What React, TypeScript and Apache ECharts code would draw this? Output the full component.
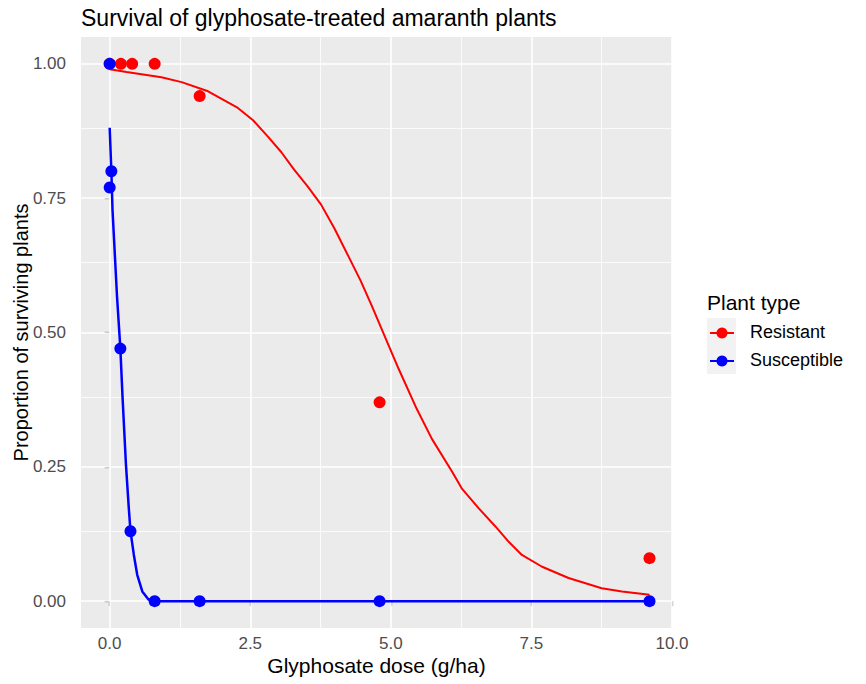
import React, { useEffect, useRef } from "react";
import * as echarts from "echarts";

// Observed survival proportions
const resistantDoseObs = [0, 0.2, 0.4, 0.8, 1.6, 4.8, 9.6];
const resistantSurvObs = [1.0, 1.0, 1.0, 1.0, 0.94, 0.37, 0.08];
const susceptibleDoseObs = [0, 0, 0.03, 0.19, 0.37, 0.8, 1.6, 4.8, 9.6];
const susceptibleSurvObs = [1.0, 0.77, 0.8, 0.47, 0.13, 0, 0, 0, 0];

// Fitted dose-response curves
const resistantFitDose = [0, 0.3, 0.92, 1.28, 1.75, 2.28, 2.55, 2.81, 3.05, 3.28, 3.52, 3.76, 4.0, 4.24, 4.46, 4.66, 4.96, 5.14, 5.46, 5.73, 6.09, 6.26, 6.56, 6.86, 7.1, 7.33, 7.69, 8.16, 8.75, 9.11, 9.6];
const resistantFitSurv = [0.99, 0.985, 0.975, 0.966, 0.949, 0.918, 0.895, 0.865, 0.836, 0.803, 0.772, 0.738, 0.693, 0.643, 0.597, 0.55, 0.476, 0.432, 0.358, 0.302, 0.241, 0.21, 0.173, 0.139, 0.11, 0.086, 0.064, 0.043, 0.024, 0.018, 0.012];
const susceptibleFitDose = [0, 0.03, 0.05, 0.13, 0.19, 0.23, 0.29, 0.34, 0.37, 0.43, 0.49, 0.58, 0.69, 0.8, 9.6];
const susceptibleFitSurv = [0.881, 0.8, 0.729, 0.568, 0.47, 0.377, 0.253, 0.173, 0.13, 0.086, 0.049, 0.018, 0.003, 0, 0];

// Axis ticks
const xTicks = [0, 2.5, 5, 7.5, 10];
const xMinorTicks = [1.25, 3.75, 6.25, 8.75];
const yTicks = [0, 0.25, 0.5, 0.75, 1];
const yMinorTicks = [0.125, 0.375, 0.625, 0.875];

const seriesNames = ["Resistant", "Susceptible"];
const seriesColors = ["#FF0000", "#0000FF"];

const FONT = "Liberation Sans, Arial, sans-serif";

const zip = (xs: number[], ys: number[]) => xs.map((x, i) => [x, ys[i]]);

export default function App() {
  const ref = useRef<HTMLDivElement>(null);
  useEffect(() => {
    if (!ref.current) return;
    const chart = echarts.init(ref.current, undefined, { renderer: "svg" });
    const gridLeft = 81;
    const gridTop = 37;
    const gridW = 591;
    const gridH = 591;

    const minor = { color: "#FFFFFF", width: 0.8, type: "solid" };
    const major = { color: "#FFFFFF", width: 1.6, type: "solid" };
    const gridLines = {
      type: "line",
      data: [],
      z: 1,
      silent: true,
      markLine: {
        z: 1,
        silent: true,
        symbol: "none",
        label: { show: false },
        animation: false,
        data: [
          ...yMinorTicks.map((v) => ({ yAxis: v, lineStyle: minor })),
          ...xMinorTicks.map((v) => ({ xAxis: v, lineStyle: minor })),
          ...yTicks.map((v) => ({ yAxis: v, lineStyle: major })),
          ...xTicks.map((v) => ({ xAxis: v, lineStyle: major })),
        ],
      },
    };

    const legendX = 707;
    const legendRows = [333, 361];

    chart.setOption({
      animation: false,
      backgroundColor: "#FFFFFF",
      title: {
        text: "Survival of glyphosate-treated amaranth plants",
        left: 76,
        top: 1,
        textStyle: { fontFamily: FONT, fontSize: 23, fontWeight: "normal", color: "#000000" },
      },
      grid: {
        left: gridLeft,
        top: gridTop,
        width: gridW,
        height: gridH,
        show: true,
        backgroundColor: "#EBEBEB",
        borderWidth: 0,
        outerBoundsMode: "none",
        containLabel: false,
        z: 0,
      },
      xAxis: {
        type: "value",
        min: -0.51,
        max: 10,
        name: "Glyphosate dose (g/ha)",
        nameLocation: "middle",
        nameGap: 27,
        nameMoveOverlap: false,
        nameTextStyle: { fontFamily: FONT, fontSize: 21, color: "#000000" },
        axisLine: { show: false },
        splitLine: { show: false },
        axisTick: { show: true, customValues: xTicks, length: 5, lineStyle: { color: "#333333", width: 1.2 } },
        axisLabel: {
          customValues: xTicks,
          formatter: (v: number) => v.toFixed(1),
          color: "#4D4D4D",
          fontFamily: FONT,
          fontSize: 17,
          margin: 7,
        },
      },
      yAxis: {
        type: "value",
        min: -0.05,
        max: 1.05,
        name: "Proportion of surviving plants",
        nameLocation: "middle",
        nameGap: 50,
        nameMoveOverlap: false,
        nameTextStyle: { fontFamily: FONT, fontSize: 20, color: "#000000" },
        axisLine: { show: false },
        splitLine: { show: false },
        axisTick: { show: true, customValues: yTicks, length: 5, lineStyle: { color: "#333333", width: 1.2 } },
        axisLabel: {
          customValues: yTicks,
          formatter: (v: number) => v.toFixed(2),
          color: "#4D4D4D",
          fontFamily: FONT,
          fontSize: 17,
          margin: 15,
        },
      },
      series: [
        gridLines,
        {
          name: seriesNames[0],
          type: "line",
          data: zip(resistantFitDose, resistantFitSurv),
          showSymbol: false,
          smooth: false,
          z: 3,
          lineStyle: { color: seriesColors[0], width: 2 },
          itemStyle: { color: seriesColors[0] },
        },
        {
          name: seriesNames[0],
          type: "scatter",
          data: zip(resistantDoseObs, resistantSurvObs),
          symbol: "circle",
          symbolSize: 12,
          z: 4,
          itemStyle: { color: seriesColors[0], opacity: 1 },
        },
        {
          name: seriesNames[1],
          type: "line",
          data: zip(susceptibleFitDose, susceptibleFitSurv),
          showSymbol: false,
          smooth: false,
          z: 5,
          lineStyle: { color: seriesColors[1], width: 2.5 },
          itemStyle: { color: seriesColors[1] },
        },
        {
          name: seriesNames[1],
          type: "scatter",
          data: zip(susceptibleDoseObs, susceptibleSurvObs),
          symbol: "circle",
          symbolSize: 12,
          z: 6,
          itemStyle: { color: seriesColors[1], opacity: 1 },
        },
      ],
      graphic: [
        {
          type: "text",
          left: legendX,
          top: 292,
          style: { text: "Plant type", fontFamily: FONT, fontSize: 21, fill: "#000000" },
        },
        {
          type: "rect",
          shape: { x: legendX, y: 318, width: 29, height: 56 },
          style: { fill: "#F2F2F2" },
        },
        ...seriesNames.flatMap((name, i) => [
          {
            type: "line",
            shape: { x1: legendX + 3, y1: legendRows[i], x2: legendX + 27, y2: legendRows[i] },
            style: { stroke: seriesColors[i], lineWidth: 2 },
          },
          {
            type: "circle",
            shape: { cx: legendX + 15, cy: legendRows[i], r: 5.5 },
            style: { fill: seriesColors[i] },
          },
          {
            type: "text",
            left: 750,
            top: legendRows[i] - 10,
            style: { text: name, fontFamily: FONT, fontSize: 18, fill: "#000000" },
          },
        ]),
      ],
    });
    return () => chart.dispose();
  }, []);
  return (
    <div
      ref={ref}
      style={{ position: "absolute", left: 0, top: 0, width: 866, height: 684, background: "#FFFFFF" }}
    />
  );
}
